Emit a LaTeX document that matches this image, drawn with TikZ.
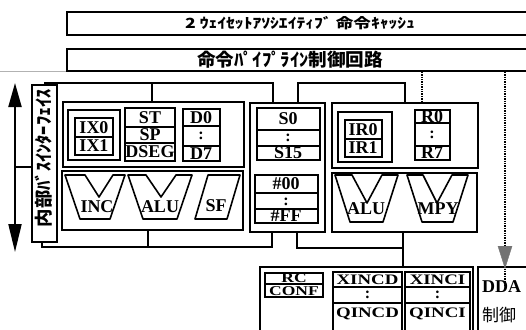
\documentclass[tikz,border=0pt]{standalone}
\usepackage{fontspec}
\usepackage{graphicx}
\setmainfont{Liberation Serif}
\newfontfamily\jp{Noto Sans CJK JP}
\usetikzlibrary{fit,arrows.meta}
\newcommand{\hfitbox}[2]{\resizebox{#1}{\height}{#2}}
\newcommand{\widetxt}[1]{\scalebox{1.3}[1]{#1}}
\begin{document}
\begin{tikzpicture}[x=1pt,y=-1pt,
  box/.style={draw, line width=1.6pt, inner sep=0pt},
  lab/.style={font=\fontsize{18}{18}\selectfont\bfseries, inner sep=0pt, text height=11.9pt, text depth=0pt},
  sml/.style={font=\fontsize{14.5}{14.5}\selectfont\bfseries, inner sep=0pt, text height=9.6pt, text depth=0pt},
  tiny/.style={font=\fontsize{13.5}{13.5}\selectfont\bfseries, inner sep=0pt, text height=8.9pt, text depth=0pt},
  vdots/.style={font=\fontsize{16}{16}\selectfont\bfseries, inner sep=0pt, text height=7.4pt, text depth=0pt},
  bus/.style={line width=1.6pt},
  dotln/.style={line width=2.6pt, dash pattern=on 1.3pt off 1.1pt, black},
  alu/.style={draw, line width=1.6pt, line join=round},
]
\useasboundingbox (0,0) rectangle (526,329);
\clip (0,0) rectangle (526,329);

% faint line left of box 2
\coordinate (fl) at (0,71);
% top boxes
\node[box, fit={(67,12) (545,35)}] (cache) {};
\node[inner sep=0pt, font=\jp\bfseries\fontsize{14}{14}\selectfont] (cachet) at (300,23) {\hfitbox{230pt}{2 ｳｪｲｾｯﾄｱｿｼｴｲﾃｨﾌﾞ 命令ｷｬｯｼｭ}};
\node[box, fit={(67,49) (545,71)}] (pipe) {};
\node[inner sep=0pt, font=\jp\bfseries\fontsize{18}{18}\selectfont] (pipet) at (290,60) {\hfitbox{186pt}{命令ﾊﾟｲﾌﾟﾗｲﾝ制御回路}};
\draw[black!30, line width=0.8pt] (fl) -- (fl -| pipe.west);

% interface box and arrow
\node[box, fit={(32,85) (57,242)}] (ifbox) {};
\node[inner sep=0pt, rotate=90, font=\jp\bfseries\fontsize{18}{18}\selectfont] (ift) at (44,158) {\hfitbox{138pt}{内部ﾊﾞｽｲﾝﾀｰﾌｪｲｽ}};
\coordinate (atop) at (15,83);
\coordinate (abot) at (15,252);
\coordinate (amid) at (15,167);
\draw[line width=2pt, {Triangle[width=13pt,length=24pt]}-{Triangle[width=13pt,length=28pt]}] (atop) -- (abot);
\draw[bus] (amid) -- (amid -| ifbox.west);

% left group
\node[box, fit={(63,102) (244,167)}] (regL) {};
\node[box, fit={(62,171) (243,230)}] (aluL) {};
% IX
\node[box, fit={(68,110) (120,160)}] (ixo) {};
\node[box, fit={(75,118) (113,155)}] (ixi) {};
\draw[bus] (ixi.west |- 0,137) -- (ixi.east |- 0,137);
\node[lab] (ix0) at (94,127.5) {IX0};
\node[lab] (ix1) at (94,146) {IX1};
% ST SP DSEG
\node[box, fit={(125,108) (175,161)}] (stb) {};
\draw[bus] (stb.west |- 0,127) -- (stb.east |- 0,127);
\draw[bus] (stb.west |- 0,143) -- (stb.east |- 0,143);
\node[lab] (st) at (150,117.5) {ST};
\node[lab] (sp) at (150,135) {SP};
\node[lab] (dseg) at (150,152) {DSEG};
% D0-D7
\node[box, fit={(183,109) (220,161)}] (db) {};
\draw[bus] (db.west |- 0,126) -- (db.east |- 0,126);
\draw[bus] (db.west |- 0,146) -- (db.east |- 0,146);
\node[lab] (d0) at (201,117.5) {D0};
\node[vdots] (dd) at (201,136) {:};
\node[lab] (d7) at (201,153.5) {D7};
% ALU shapes left
\draw[alu] (65,175) -- (85,175) -- (99,197) -- (113,175) -- (125,175) -- (110,219) -- (80,219) -- cycle;
\node[lab] (inc) at (97,207) {INC};
\draw[alu] (128,175) -- (146,175) -- (161,197) -- (176,175) -- (192,175) -- (177,219) -- (143,219) -- cycle;
\node[lab] (alu1) at (160,207) {ALU};
\draw[alu] (208,175) -- (240,175) -- (227,219) -- (195,219) -- cycle;
\node[lab] (sf) at (216,206) {SF};

% S group
\node[box, fit={(250,103) (325,232)}] (sgrp) {};
\node[box, fit={(257,108) (320,160)}] (sb) {};
\draw[bus] (sb.west |- 0,130) -- (sb.east |- 0,130);
\draw[bus] (sb.west |- 0,146) -- (sb.east |- 0,146);
\node[lab] (s0) at (288,119) {S0};
\node[vdots] (sd) at (288,138) {:};
\node[lab] (s15) at (288,153) {S15};
\node[box, fit={(255,175) (318,223)}] (hb) {};
\draw[bus] (hb.west |- 0,193) -- (hb.east |- 0,193);
\draw[bus] (hb.west |- 0,209) -- (hb.east |- 0,209);
\node[lab] (h00) at (286,183.5) {\#00};
\node[vdots] (hd) at (286,201.5) {:};
\node[lab] (hff) at (286,216) {\#FF};

% right group
\node[box, fit={(332,103) (478,168)}] (regR) {};
\node[box, fit={(332,173) (477,232)}] (aluR) {};
\node[box, fit={(338,112) (392,162)}] (iro) {};
\node[box, fit={(345,120) (382,157)}] (iri) {};
\draw[bus] (iri.west |- 0,139) -- (iri.east |- 0,139);
\node[lab] (ir0) at (363,129.5) {IR0};
\node[lab] (ir1) at (363,148) {IR1};
\node[box, fit={(415,110) (450,160)}] (rb) {};
\draw[bus] (rb.west |- 0,123) -- (rb.east |- 0,123);
\draw[bus] (rb.west |- 0,146) -- (rb.east |- 0,146);
\node[lab] (r0) at (432,116.5) {R0};
\node[vdots] (rd) at (432,135) {:};
\node[lab] (r7) at (432,153) {R7};
\draw[alu] (335,175) -- (352,175) -- (367,203) -- (382,175) -- (398,175) -- (383,222) -- (350,222) -- cycle;
\node[lab] (alu2) at (366,209) {ALU};
\draw[alu] (407,175) -- (423,175) -- (437,203) -- (452,175) -- (468,175) -- (453,222) -- (422,222) -- cycle;
\node[lab] (mpy) at (438,209) {MPY};

% bottom group
\node[box, fit={(260,267) (473,345)}] (botg) {};
\node[box, fit={(265,273) (323,297)}] (rcb) {};
\draw[bus] (rcb.west |- 0,284) -- (rcb.east |- 0,284);
\node[tiny] (rc) at (294,278.3) {\widetxt{RC}};
\node[tiny] (conf) at (294,291) {\widetxt{CONF}};
\node[box, fit={(333,272) (402,345)}] (xdb) {};
\draw[bus] (xdb.west |- 0,287) -- (xdb.east |- 0,287);
\draw[bus] (xdb.west |- 0,303) -- (xdb.east |- 0,303);
\node[sml] (xincd) at (367.5,279.5) {\widetxt{XINCD}};
\node[vdots] (xdd) at (367.5,295) {:};
\node[sml] (qincd) at (367.5,313) {\widetxt{QINCD}};
\node[box, fit={(405,272) (470,345)}] (xib) {};
\draw[bus] (xib.west |- 0,287) -- (xib.east |- 0,287);
\draw[bus] (xib.west |- 0,303) -- (xib.east |- 0,303);
\node[sml] (xinci) at (437.5,279.5) {\widetxt{XINCI}};
\node[vdots] (xid) at (437.5,295) {:};
\node[sml] (qinci) at (437.5,313) {\widetxt{QINCI}};
\node[box, fit={(478,267) (545,345)}] (dda) {};
\node[lab, anchor=west] (ddat) at (482,287) {DDA};
\node[inner sep=0pt, anchor=west, font=\jp\fontsize{17}{17}\selectfont] (ddaj) at (482,315) {制御};

% buses
\coordinate (tb) at (45,83);
\draw[bus] (ifbox.north -| tb) |- (tb) -| (sgrp.north -| 273,0);
\coordinate (br1) at (152,83);
\draw[bus] (br1) -- (br1 |- regL.north);
\coordinate (tr1) at (298,83);
\coordinate (tr2) at (405,83);
\draw[bus] (sgrp.north -| tr1) -- (tr1) -- (tr2) -- (tr2 |- regR.north);
\coordinate (bb) at (42,247);
\draw[bus] (ifbox.south -| bb) -- (bb) -| (sgrp.south -| 272,0);
\coordinate (bb1) at (148,247);
\draw[bus] (aluL.south -| bb1) -- (bb1);
\coordinate (bb2) at (297,248);
\coordinate (bb3) at (403,248);
\draw[bus] (sgrp.south -| bb2) -- (bb2) -- (bb3);
\draw[bus] (aluR.south -| bb3) -- (botg.north -| bb3);

% dotted connectors
\coordinate (d1) at (422,0);
\draw[dotln] (pipe.south -| d1) -- (regR.north -| d1);
\coordinate (d2) at (505,0);
\draw[dotln] (pipe.south -| d2) -- ([yshift=-20pt]dda.north -| d2);
\draw[fill=black!55, draw=black!55] ([yshift=-2pt]dda.north -| d2) -- ++(-7,-22) -- ++(14,0) -- cycle;
\end{tikzpicture}
\end{document}
